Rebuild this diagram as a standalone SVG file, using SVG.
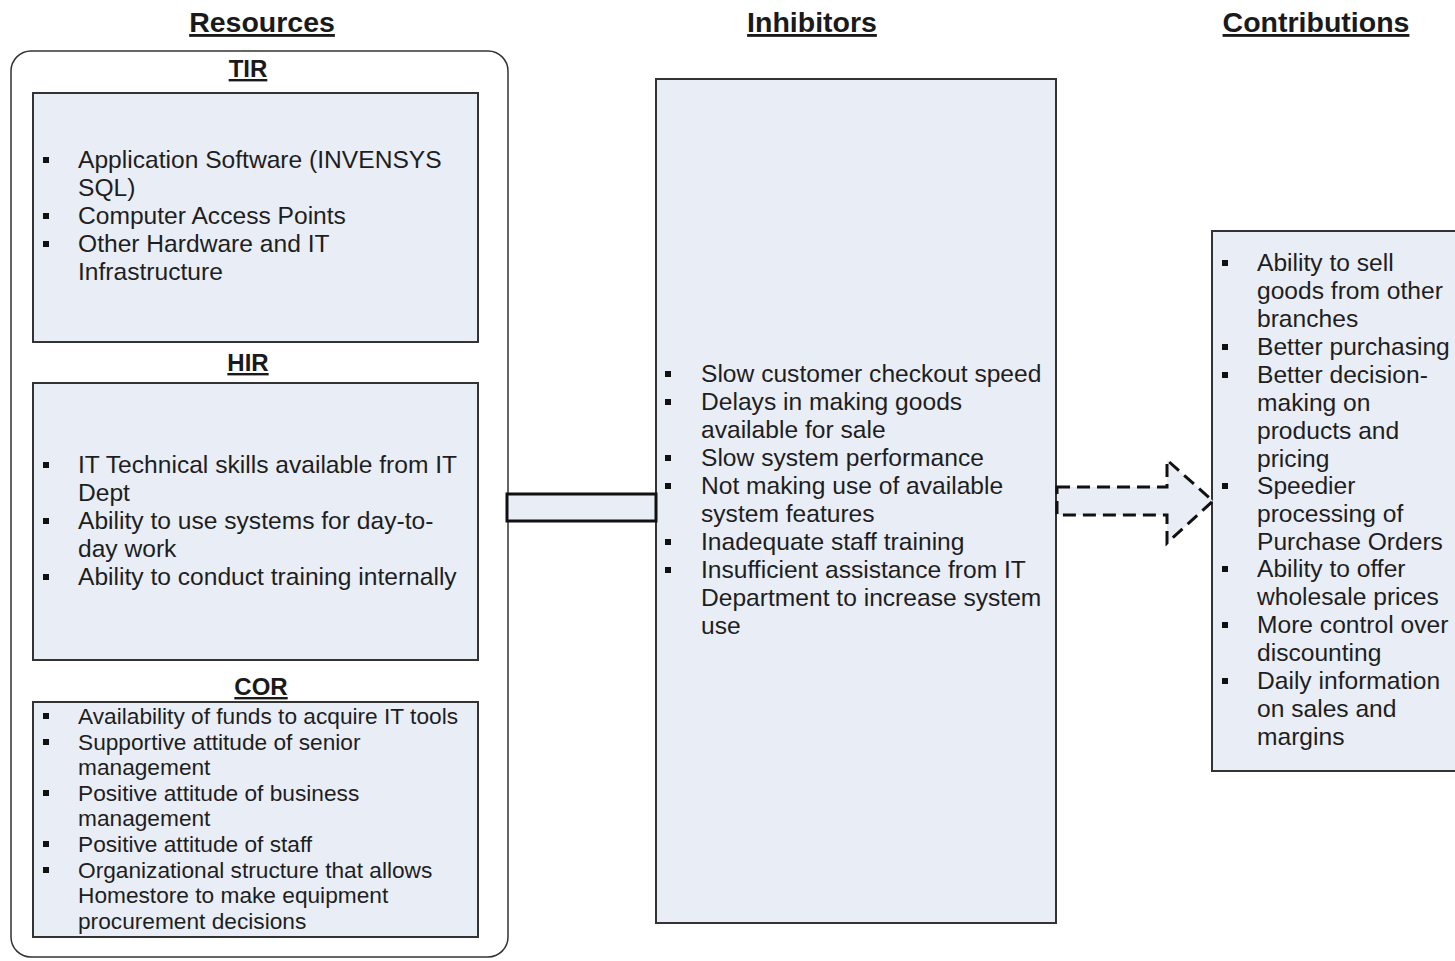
<svg xmlns="http://www.w3.org/2000/svg" width="1455" height="961" viewBox="0 0 1455 961">
  <style>
    .hdr { font-family: "Liberation Sans", Arial, sans-serif; font-weight: bold; font-size: 28.5px; fill: #1a1a1a; text-decoration: underline; text-anchor: middle; }
    .sub { font-family: "Liberation Sans", Arial, sans-serif; font-weight: bold; font-size: 24px; fill: #1a1a1a; text-decoration: underline; text-anchor: middle; }
    .txt { font-family: "Liberation Sans", Arial, sans-serif; font-size: 24.6px; fill: #1e1e1e; }
    .sm { font-family: "Liberation Sans", Arial, sans-serif; font-size: 22.7px; fill: #1e1e1e; }
    .box { fill: #e9edf6; stroke: #333; stroke-width: 2; }
    .b { fill: #111; }
  </style>
  <defs>
    <rect id="bul" class="b" x="0" y="0" width="6" height="6"/>
  </defs>

  <rect width="1455" height="961" fill="#fff"/>

  <!-- column headings -->
  <text class="hdr" x="262" y="32">Resources</text>
  <text class="hdr" x="812" y="32">Inhibitors</text>
  <text class="hdr" x="1316" y="32">Contributions</text>

  <!-- Resources container -->
  <g id="resources">
    <rect x="11" y="51" width="497" height="906" rx="20" ry="20" fill="none" stroke="#333" stroke-width="1.5"/>

    <g id="tir">
      <text class="sub" x="248" y="77">TIR</text>
      <rect class="box" x="33" y="93" width="445" height="249"/>
      <use href="#bul" x="43" y="157"/>
      <use href="#bul" x="43" y="213"/>
      <use href="#bul" x="43" y="241"/>
      <text class="txt" x="78" y="168">Application Software (INVENSYS</text>
      <text class="txt" x="78" y="196">SQL)</text>
      <text class="txt" x="78" y="224">Computer Access Points</text>
      <text class="txt" x="78" y="252">Other Hardware and IT</text>
      <text class="txt" x="78" y="280">Infrastructure</text>
    </g>

    <g id="hir">
      <text class="sub" x="248" y="371">HIR</text>
      <rect class="box" x="33" y="383" width="445" height="277"/>
      <use href="#bul" x="43" y="462"/>
      <use href="#bul" x="43" y="518"/>
      <use href="#bul" x="43" y="574"/>
      <text class="txt" x="78" y="473">IT Technical skills available from IT</text>
      <text class="txt" x="78" y="501">Dept</text>
      <text class="txt" x="78" y="529">Ability to use systems for day-to-</text>
      <text class="txt" x="78" y="557">day work</text>
      <text class="txt" x="78" y="585">Ability to conduct training internally</text>
    </g>

    <g id="cor">
      <text class="sub" x="261" y="695">COR</text>
      <rect class="box" x="33" y="702" width="445" height="235"/>
      <use href="#bul" x="43" y="713"/>
      <use href="#bul" x="43" y="739"/>
      <use href="#bul" x="43" y="790"/>
      <use href="#bul" x="43" y="841"/>
      <use href="#bul" x="43" y="867"/>
      <text class="sm" x="78" y="724">Availability of funds to acquire IT tools</text>
      <text class="sm" x="78" y="750">Supportive attitude of senior</text>
      <text class="sm" x="78" y="775">management</text>
      <text class="sm" x="78" y="801">Positive attitude of business</text>
      <text class="sm" x="78" y="826">management</text>
      <text class="sm" x="78" y="852">Positive attitude of staff</text>
      <text class="sm" x="78" y="878">Organizational structure that allows</text>
      <text class="sm" x="78" y="903">Homestore to make equipment</text>
      <text class="sm" x="78" y="929">procurement decisions</text>
    </g>
  </g>

  <!-- Inhibitors -->
  <g id="inhibitors">
    <rect class="box" x="656" y="79" width="400" height="844"/>
    <use href="#bul" x="665" y="371"/>
    <use href="#bul" x="665" y="399"/>
    <use href="#bul" x="665" y="455"/>
    <use href="#bul" x="665" y="483"/>
    <use href="#bul" x="665" y="539"/>
    <use href="#bul" x="665" y="567"/>
    <text class="txt" x="701" y="382">Slow customer checkout speed</text>
    <text class="txt" x="701" y="410">Delays in making goods</text>
    <text class="txt" x="701" y="438">available for sale</text>
    <text class="txt" x="701" y="466">Slow system performance</text>
    <text class="txt" x="701" y="494">Not making use of available</text>
    <text class="txt" x="701" y="522">system features</text>
    <text class="txt" x="701" y="550">Inadequate staff training</text>
    <text class="txt" x="701" y="578">Insufficient assistance from IT</text>
    <text class="txt" x="701" y="606">Department to increase system</text>
    <text class="txt" x="701" y="634">use</text>
  </g>

  <!-- Contributions -->
  <g id="contributions">
    <rect class="box" x="1212" y="231" width="260" height="540"/>
    <use href="#bul" x="1222" y="260"/>
    <use href="#bul" x="1222" y="344"/>
    <use href="#bul" x="1222" y="372"/>
    <use href="#bul" x="1222" y="483"/>
    <use href="#bul" x="1222" y="566"/>
    <use href="#bul" x="1222" y="622"/>
    <use href="#bul" x="1222" y="678"/>
    <text class="txt" x="1257" y="271">Ability to sell</text>
    <text class="txt" x="1257" y="299">goods from other</text>
    <text class="txt" x="1257" y="327">branches</text>
    <text class="txt" x="1257" y="355">Better purchasing</text>
    <text class="txt" x="1257" y="383">Better decision-</text>
    <text class="txt" x="1257" y="411">making on</text>
    <text class="txt" x="1257" y="439">products and</text>
    <text class="txt" x="1257" y="467">pricing</text>
    <text class="txt" x="1257" y="494">Speedier</text>
    <text class="txt" x="1257" y="522">processing of</text>
    <text class="txt" x="1257" y="550">Purchase Orders</text>
    <text class="txt" x="1257" y="577">Ability to offer</text>
    <text class="txt" x="1257" y="605">wholesale prices</text>
    <text class="txt" x="1257" y="633">More control over</text>
    <text class="txt" x="1257" y="661">discounting</text>
    <text class="txt" x="1257" y="689">Daily information</text>
    <text class="txt" x="1257" y="717">on sales and</text>
    <text class="txt" x="1257" y="745">margins</text>
  </g>

  <!-- connectors -->
  <g id="connectors">
    <rect x="507" y="494" width="149" height="27" fill="#e9edf6" stroke="#111" stroke-width="3"/>
    <polygon points="1057,487 1167,487 1167,460 1213,501 1167,543 1167,515 1057,515" fill="#e9edf6" stroke="#111" stroke-width="3" stroke-dasharray="13,7"/>
  </g>
</svg>
